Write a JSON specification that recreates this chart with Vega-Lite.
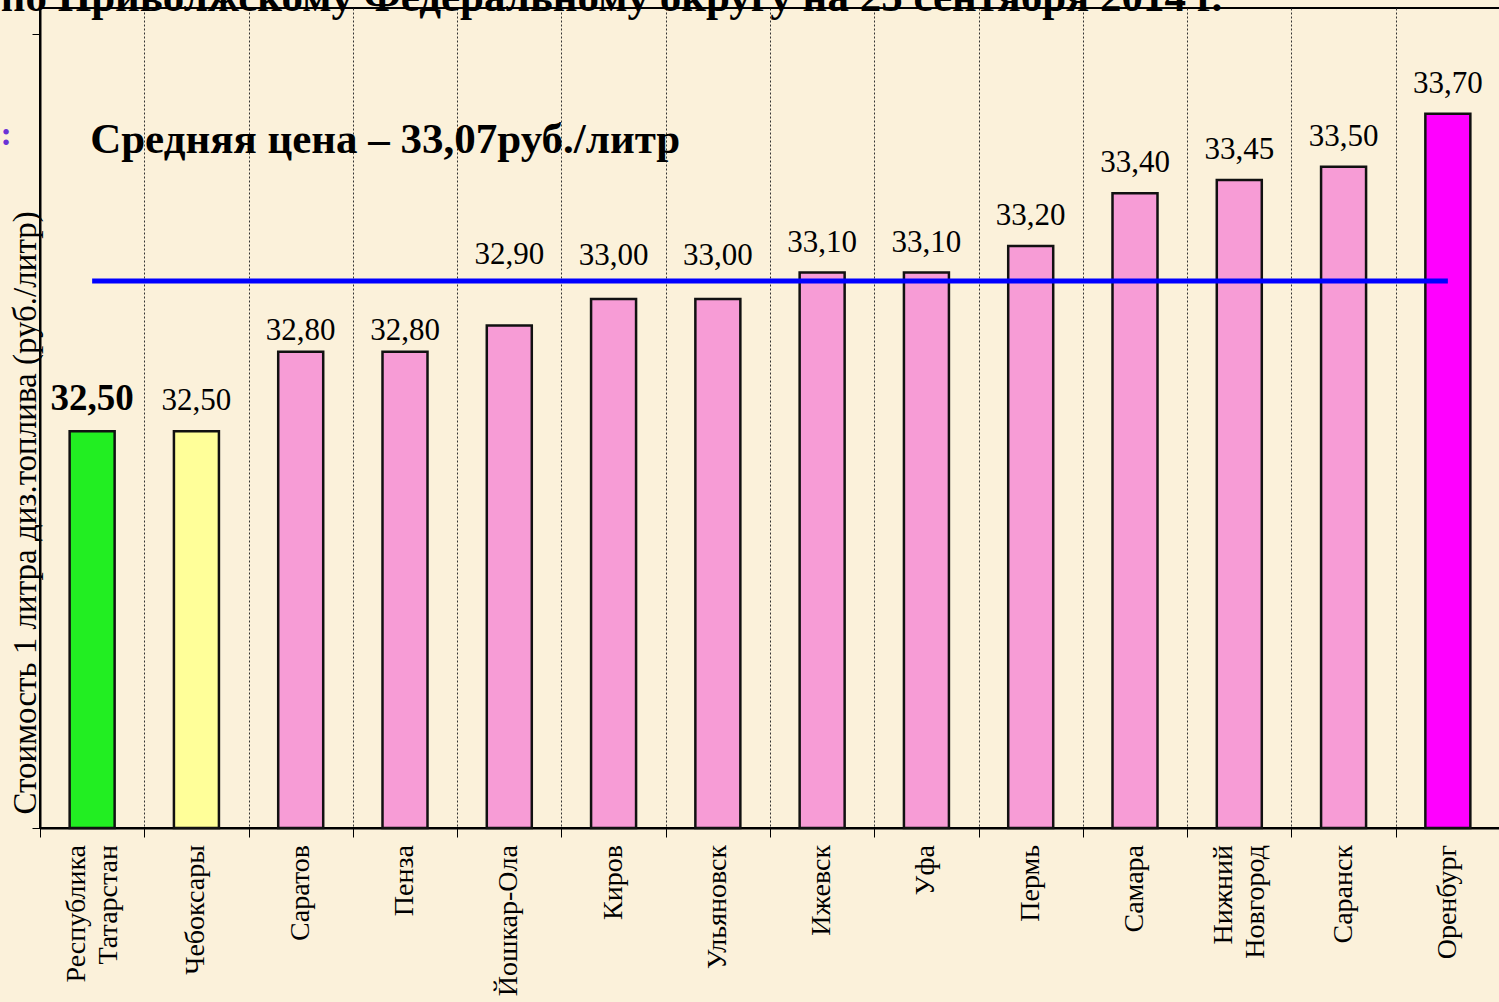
{
  "$schema": "https://vega.github.io/schema/vega-lite/v6.json",
  "width": 1460,
  "height": 820,
  "autosize": {"type": "none"},
  "padding": {"left": 40, "top": 8, "right": 0, "bottom": 174},
  "background": "#FBF1DA",
  "config": {
    "view": {"stroke": "black", "strokeWidth": 2},
    "locale": {
      "number": {"decimal": ",", "thousands": " ", "grouping": [3], "currency": ["", " ₽"]}
    }
  },
  "data": {
    "values": [
      {"city": "Республика Татарстан", "value": 32.5},
      {"city": "Чебоксары", "value": 32.5},
      {"city": "Саратов", "value": 32.8},
      {"city": "Пенза", "value": 32.8},
      {"city": "Йошкар-Ола", "value": 32.9},
      {"city": "Киров", "value": 33.0},
      {"city": "Ульяновск", "value": 33.0},
      {"city": "Ижевск", "value": 33.1},
      {"city": "Уфа", "value": 33.1},
      {"city": "Пермь", "value": 33.2},
      {"city": "Самара", "value": 33.4},
      {"city": "Нижний Новгород", "value": 33.45},
      {"city": "Саранск", "value": 33.5},
      {"city": "Оренбург", "value": 33.7}
    ]
  },
  "encoding": {
    "x": {
      "field": "city",
      "type": "nominal",
      "sort": null,
      "scale": {"paddingInner": 0, "paddingOuter": 0},
      "axis": {
        "title": null,
        "labels": false,
        "tickBand": "extent",
        "tickSize": 9,
        "tickColor": "black",
        "tickWidth": 1,
        "domainColor": "black",
        "domainWidth": 2,
        "grid": true,
        "gridDash": [2, 2],
        "gridColor": "#333333",
        "gridWidth": 1
      }
    }
  },
  "layer": [
    {
      "mark": {"type": "bar", "size": 45, "stroke": "#111111", "strokeWidth": 2.5},
      "encoding": {
        "y": {
          "field": "value",
          "type": "quantitative",
          "scale": {"domain": [31, 34.1], "zero": false, "nice": false},
          "axis": {
            "values": [31, 34],
            "labels": false,
            "grid": false,
            "tickSize": 8,
            "tickColor": "black",
            "domainColor": "black",
            "domainWidth": 2,
            "title": "Стоимость 1 литра диз.топлива  (руб./литр)",
            "titleFont": "Liberation Serif",
            "titleFontSize": 33,
            "titleFontWeight": "normal",
            "titleColor": "black",
            "titleAngle": -90,
            "titleAlign": "left",
            "titleBaseline": "alphabetic",
            "titleX": -5,
            "titleY": 806
          }
        },
        "y2": {"datum": 31},
        "color": {
          "field": "city",
          "type": "nominal",
          "legend": null,
          "scale": {
            "domain": ["Республика Татарстан", "Чебоксары", "Саратов", "Пенза", "Йошкар-Ола", "Киров", "Ульяновск", "Ижевск", "Уфа", "Пермь", "Самара", "Нижний Новгород", "Саранск", "Оренбург"],
            "range": ["#22EE22", "#FFFF99", "#F79CD6", "#F79CD6", "#F79CD6", "#F79CD6", "#F79CD6", "#F79CD6", "#F79CD6", "#F79CD6", "#F79CD6", "#F79CD6", "#F79CD6", "#FF00FF"]
          }
        }
      }
    },
    {
      "transform": [{"joinaggregate": [{"op": "mean", "field": "value", "as": "avg"}]}],
      "mark": {"type": "line", "color": "#0000FF", "strokeWidth": 5},
      "encoding": {
        "y": {"field": "avg", "type": "quantitative"}
      }
    },
    {
      "transform": [{"filter": "indexof(datum.city, ' ') < 0"}],
      "mark": {"type": "text", "font": "Liberation Serif", "fontSize": 28, "color": "black", "angle": 270, "align": "right", "baseline": "middle", "dx": -17},
      "encoding": {
        "y": {"datum": 31},
        "text": {"field": "city", "type": "nominal"}
      }
    },
    {
      "transform": [{"filter": "indexof(datum.city, ' ') >= 0"}],
      "mark": {"type": "text", "font": "Liberation Serif", "fontSize": 28, "color": "black", "angle": 270, "align": "right", "baseline": "middle", "dx": -17, "dy": -15, "lineBreak": " ", "lineHeight": 32},
      "encoding": {
        "y": {"datum": 31},
        "text": {"field": "city", "type": "nominal"}
      }
    },
    {
      "transform": [{"filter": "datum.value >= 33.05 || datum.city == 'Чебоксары'"}],
      "mark": {"type": "text", "font": "Liberation Serif", "fontSize": 31, "color": "black", "baseline": "middle", "dy": -30},
      "encoding": {
        "y": {"field": "value", "type": "quantitative"},
        "text": {"field": "value", "type": "quantitative", "format": ".2f"}
      }
    },
    {
      "transform": [{"filter": "datum.city == 'Республика Татарстан'"}],
      "mark": {"type": "text", "font": "Liberation Serif", "fontSize": 37, "fontWeight": "bold", "color": "black", "baseline": "middle", "dy": -32},
      "encoding": {
        "y": {"field": "value", "type": "quantitative"},
        "text": {"field": "value", "type": "quantitative", "format": ".2f"}
      }
    },
    {
      "transform": [{"filter": "datum.value == 32.8"}],
      "mark": {"type": "text", "font": "Liberation Serif", "fontSize": 31, "color": "black", "baseline": "middle", "dy": -21},
      "encoding": {
        "y": {"field": "value", "type": "quantitative"},
        "text": {"field": "value", "type": "quantitative", "format": ".2f"}
      }
    },
    {
      "transform": [{"filter": "datum.value == 32.9"}],
      "mark": {"type": "text", "font": "Liberation Serif", "fontSize": 31, "color": "black", "baseline": "middle", "dy": -70},
      "encoding": {
        "y": {"field": "value", "type": "quantitative"},
        "text": {"field": "value", "type": "quantitative", "format": ".2f"}
      }
    },
    {
      "transform": [{"filter": "datum.value == 33"}],
      "mark": {"type": "text", "font": "Liberation Serif", "fontSize": 31, "color": "black", "baseline": "middle", "dy": -43},
      "encoding": {
        "y": {"field": "value", "type": "quantitative"},
        "text": {"field": "value", "type": "quantitative", "format": ".2f"}
      }
    },
    {
      "data": {"values": [{"note": "Средняя цена – 33,07руб./литр"}]},
      "mark": {"type": "text", "font": "Liberation Serif", "fontSize": 43, "fontWeight": "bold", "color": "black", "align": "left", "baseline": "alphabetic", "dx": -2},
      "encoding": {
        "x": {"datum": "Республика Татарстан"},
        "y": {"datum": 33.55},
        "text": {"field": "note", "type": "nominal"}
      }
    },
    {
      "data": {"values": [{"heading": "по Приволжскому Федеральному округу на 25 сентября 2014 г."}]},
      "mark": {"type": "text", "font": "Liberation Serif", "fontSize": 43, "fontWeight": "bold", "color": "black", "align": "right", "baseline": "alphabetic", "dx": -17, "dy": 3},
      "encoding": {
        "x": {"datum": "Нижний Новгород"},
        "y": {"datum": 34.1},
        "text": {"field": "heading", "type": "nominal"}
      }
    },
    {
      "data": {"values": [{"sym": ":"}]},
      "mark": {"type": "text", "font": "Liberation Serif", "fontSize": 34, "fontWeight": "bold", "color": "#6A33D6", "align": "center", "baseline": "middle", "dx": -86},
      "encoding": {
        "x": {"datum": "Республика Татарстан"},
        "y": {"datum": 33.62},
        "text": {"field": "sym", "type": "nominal"}
      }
    }
  ]
}
